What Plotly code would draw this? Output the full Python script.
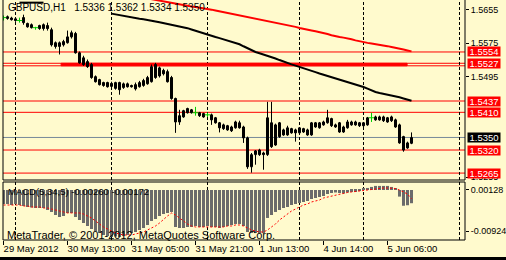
import plotly.graph_objects as go

# ---------------- data ----------------
x_labels = ['29 May 2012', '30 May 13:00', '31 May 05:00', '31 May 21:00',
            '1 Jun 13:00', '4 Jun 14:00', '5 Jun 06:00']
x_label_bars = [0, 16, 32, 48, 64, 80, 96]
separator_bars = [3, 27, 51, 74, 90, 114]

opens = [1.5636, 1.5638, 1.5635, 1.5633, 1.5629, 1.5636, 1.5622, 1.5619, 1.5612, 1.5617,
         1.5619, 1.5617, 1.5607, 1.5576, 1.5567, 1.5571, 1.5576, 1.5590, 1.5598, 1.5552,
         1.5540, 1.5531, 1.5524, 1.5495, 1.5488, 1.5481, 1.5481, 1.5479, 1.5467, 1.5481,
         1.5469, 1.5478, 1.5474, 1.5476, 1.5471, 1.5474, 1.5478, 1.5483, 1.5524, 1.5516,
         1.5510, 1.5507, 1.5493, 1.5443, 1.5387, 1.5399, 1.5419, 1.5416, 1.5409, 1.5409,
         1.5407, 1.5404, 1.5404, 1.5397, 1.5385, 1.5380, 1.5378, 1.5375, 1.5373, 1.5385,
         1.5375, 1.5349, 1.5280, 1.5309, 1.5320, 1.5313, 1.5309, 1.5385, 1.5332, 1.5385,
         1.5368, 1.5356, 1.5371, 1.5368, 1.5361, 1.5371, 1.5368, 1.5356, 1.5385, 1.5373,
         1.5380, 1.5385, 1.5395, 1.5380, 1.5385, 1.5363, 1.5373, 1.5380, 1.5387, 1.5385,
         1.5385, 1.5380, 1.5397, 1.5392, 1.5399, 1.5399, 1.5397, 1.5399, 1.5392, 1.5380,
         1.5352, 1.5325, 1.5336]
highs = [1.5641, 1.5641, 1.5638, 1.5636, 1.5636, 1.5643, 1.5624, 1.5622, 1.5614, 1.5619,
         1.5622, 1.5624, 1.5612, 1.5579, 1.5579, 1.5583, 1.5605, 1.5605, 1.5602, 1.5555,
         1.5545, 1.5536, 1.5528, 1.5498, 1.5490, 1.5483, 1.5483, 1.5483, 1.5483, 1.5483,
         1.5481, 1.5481, 1.5476, 1.5481, 1.5485, 1.5490, 1.5497, 1.5524, 1.5528, 1.5519,
         1.5514, 1.5512, 1.5497, 1.5445, 1.5416, 1.5416, 1.5421, 1.5418, 1.5423, 1.5411,
         1.5409, 1.5409, 1.5407, 1.5399, 1.5387, 1.5383, 1.5380, 1.5378, 1.5390, 1.5390,
         1.5378, 1.5352, 1.5313, 1.5320, 1.5323, 1.5316, 1.5435, 1.5435, 1.5383, 1.5387,
         1.5371, 1.5378, 1.5373, 1.5371, 1.5375, 1.5373, 1.5371, 1.5387, 1.5387, 1.5387,
         1.5390, 1.5416, 1.5397, 1.5383, 1.5387, 1.5378, 1.5392, 1.5390, 1.5390, 1.5387,
         1.5387, 1.5399, 1.5409, 1.5402, 1.5402, 1.5402, 1.5399, 1.5402, 1.5395, 1.5383,
         1.5354, 1.5340, 1.5362]
lows = [1.5629, 1.5631, 1.5629, 1.5626, 1.5624, 1.5619, 1.5612, 1.5610, 1.5607, 1.5607,
        1.5605, 1.5605, 1.5567, 1.5562, 1.5548, 1.5567, 1.5574, 1.5586, 1.5550, 1.5526,
        1.5521, 1.5516, 1.5490, 1.5481, 1.5474, 1.5471, 1.5469, 1.5469, 1.5464, 1.5452,
        1.5466, 1.5469, 1.5469, 1.5462, 1.5469, 1.5471, 1.5476, 1.5481, 1.5490, 1.5493,
        1.5498, 1.5481, 1.5440, 1.5361, 1.5380, 1.5397, 1.5407, 1.5407, 1.5402, 1.5399,
        1.5397, 1.5399, 1.5380, 1.5383, 1.5362, 1.5368, 1.5366, 1.5363, 1.5371, 1.5371,
        1.5337, 1.5275, 1.5266, 1.5285, 1.5306, 1.5273, 1.5306, 1.5325, 1.5330, 1.5349,
        1.5354, 1.5354, 1.5359, 1.5340, 1.5359, 1.5361, 1.5354, 1.5354, 1.5373, 1.5371,
        1.5378, 1.5383, 1.5375, 1.5373, 1.5361, 1.5361, 1.5371, 1.5378, 1.5378, 1.5375,
        1.5375, 1.5378, 1.5387, 1.5390, 1.5390, 1.5387, 1.5385, 1.5387, 1.5373, 1.5335,
        1.5316, 1.5323, 1.5334]
closes = [1.5636, 1.5634, 1.5631, 1.5629, 1.5629, 1.5624, 1.5614, 1.5612, 1.5612, 1.5610,
          1.5610, 1.5610, 1.5571, 1.5567, 1.5576, 1.5579, 1.5590, 1.5600, 1.5552, 1.5528,
          1.5524, 1.5519, 1.5493, 1.5483, 1.5476, 1.5474, 1.5471, 1.5472, 1.5481, 1.5464,
          1.5478, 1.5471, 1.5471, 1.5466, 1.5481, 1.5486, 1.5493, 1.5519, 1.5493, 1.5497,
          1.5502, 1.5483, 1.5443, 1.5387, 1.5402, 1.5414, 1.5409, 1.5409, 1.5409, 1.5402,
          1.5399, 1.5404, 1.5392, 1.5385, 1.5373, 1.5371, 1.5368, 1.5366, 1.5387, 1.5373,
          1.5349, 1.5280, 1.5309, 1.5318, 1.5309, 1.5309, 1.5397, 1.5328, 1.5380, 1.5352,
          1.5356, 1.5373, 1.5361, 1.5361, 1.5373, 1.5363, 1.5356, 1.5385, 1.5375, 1.5385,
          1.5387, 1.5397, 1.5378, 1.5375, 1.5363, 1.5375, 1.5387, 1.5387, 1.5380, 1.5378,
          1.5378, 1.5397, 1.5397, 1.5399, 1.5392, 1.5390, 1.5387, 1.5390, 1.5375, 1.5337,
          1.5320, 1.5337, 1.5350]

# slow moving average (red), bars 36..102
red_ma_start = 36
red_ma = [1.56818, 1.56799, 1.56779, 1.56760, 1.56741, 1.56722, 1.56705, 1.56686, 1.56670, 1.56655,
          1.56641, 1.56624, 1.56612, 1.56600, 1.56588, 1.56569, 1.56550, 1.56531, 1.56512, 1.56493,
          1.56476, 1.56457, 1.56438, 1.56419, 1.56400, 1.56378, 1.56359, 1.56340, 1.56321, 1.56302,
          1.56283, 1.56264, 1.56245, 1.56228, 1.56209, 1.56190, 1.56166, 1.56139, 1.56113, 1.56087,
          1.56070, 1.56053, 1.56034, 1.56018, 1.55994, 1.55968, 1.55941, 1.55915, 1.55896, 1.55882,
          1.55870, 1.55843, 1.55817, 1.55793, 1.55769, 1.55757, 1.55743, 1.55731, 1.55717, 1.55698,
          1.55679, 1.55659, 1.55643, 1.55621, 1.55597, 1.55576, 1.55554]

# faster moving average (black): short piece bars 4..10, then bars 27..102
black_ma_a_start = 4
black_ma_a = [1.56717, 1.56717, 1.56717, 1.56717, 1.56717, 1.56717, 1.56717]
black_ma_b_start = 27
black_ma_b = [1.56455, 1.56436, 1.56416, 1.56397, 1.56378, 1.56359, 1.56345, 1.56333, 1.56321, 1.56307,
              1.56290, 1.56268, 1.56247, 1.56228, 1.56206, 1.56187, 1.56168, 1.56149, 1.56130, 1.56108,
              1.56077, 1.56044, 1.56013, 1.55982, 1.55948, 1.55922, 1.55896, 1.55870, 1.55843, 1.55817,
              1.55791, 1.55765, 1.55724, 1.55676, 1.55628, 1.55581, 1.55540, 1.55511, 1.55483, 1.55454,
              1.55423, 1.55385, 1.55347, 1.55309, 1.55273, 1.55244, 1.55215, 1.55187, 1.55158, 1.55125,
              1.55094, 1.55060, 1.55027, 1.54998, 1.54969, 1.54941, 1.54912, 1.54883, 1.54855, 1.54831,
              1.54800, 1.54769, 1.54735, 1.54704, 1.54664, 1.54616, 1.54585, 1.54561, 1.54544, 1.54525,
              1.54506, 1.54487, 1.54458, 1.54430, 1.54401, 1.54377]

red_levels = [1.5554, 1.5527, 1.5437, 1.5410, 1.5320, 1.5265]
zone_prices = [1.5521, 1.5527]      # second line under 1.5527 and the band between them
zone_bars = [14.4, 100.9]
bid_level = 1.5350
price_ticks = [1.5655, 1.5575, 1.5495, 1.5255]

macd_hist = [-0.00275, -0.00275, -0.00295, -0.00275, -0.00295, -0.00315, -0.00334, -0.00344, -0.00354, -0.00354,
             -0.00354, -0.00393, -0.00432, -0.00492, -0.00531, -0.00511, -0.00452, -0.00452, -0.00531, -0.00590,
             -0.00649, -0.00708, -0.00767, -0.00806, -0.00845, -0.00885, -0.00904, -0.00924, -0.00914, -0.00924,
             -0.00904, -0.00885, -0.00845, -0.00826, -0.00786, -0.00747, -0.00688, -0.00609, -0.00570, -0.00511,
             -0.00472, -0.00452, -0.00432, -0.00727, -0.00747, -0.00747, -0.00727, -0.00727, -0.00708, -0.00727,
             -0.00727, -0.00708, -0.00727, -0.00727, -0.00747, -0.00727, -0.00708, -0.00688, -0.00668, -0.00668,
             -0.00708, -0.00826, -0.00845, -0.00845, -0.00845, -0.00845, -0.00550, -0.00492, -0.00432, -0.00393,
             -0.00354, -0.00334, -0.00295, -0.00275, -0.00256, -0.00236, -0.00216, -0.00177, -0.00157, -0.00138,
             -0.00118, -0.00079, -0.00059, -0.00049, -0.00059, -0.00069, -0.00049, -0.00039, -0.00039, -0.00020,
             0.00020, 0.00040, 0.00060, 0.00080, 0.00080, 0.00080, 0.00080, 0.00060, 0.00020, -0.00130,
             -0.00310, -0.00300, -0.00260]
macd_signal = [-0.00295, -0.00295, -0.00295, -0.00295, -0.00295, -0.00315, -0.00315, -0.00334, -0.00334, -0.00334,
               -0.00354, -0.00354, -0.00374, -0.00393, -0.00413, -0.00433, -0.00452, -0.00452, -0.00452, -0.00452,
               -0.00472, -0.00511, -0.00550, -0.00609, -0.00668, -0.00727, -0.00767, -0.00806, -0.00845, -0.00865,
               -0.00885, -0.00885, -0.00885, -0.00865, -0.00845, -0.00826, -0.00786, -0.00747, -0.00708, -0.00649,
               -0.00570, -0.00511, -0.00452, -0.00492, -0.00550, -0.00609, -0.00668, -0.00708, -0.00727, -0.00727,
               -0.00727, -0.00727, -0.00727, -0.00727, -0.00727, -0.00727, -0.00708, -0.00708, -0.00688, -0.00688,
               -0.00708, -0.00747, -0.00786, -0.00806, -0.00826, -0.00826, -0.00786, -0.00727, -0.00668, -0.00590,
               -0.00531, -0.00472, -0.00413, -0.00374, -0.00334, -0.00295, -0.00275, -0.00236, -0.00216, -0.00197,
               -0.00157, -0.00138, -0.00118, -0.00098, -0.00079, -0.00059, -0.00049, -0.00039, -0.00029, -0.00020,
               -0.00010, 0.00000, 0.00020, 0.00029, 0.00039, 0.00039, 0.00039, 0.00039, 0.00029, 0.00000,
               -0.00039, -0.00079, -0.00172]
macd_tick_text = ['0.00128', '-0.00924']

title_text = 'GBPUSD,H1   1.5336 1.5362 1.5334 1.5350'
macd_text = 'MACD(5,34,5) -0.00260 -0.00172'
copyright_text = 'MetaTrader, \u00a9 2001-2012, MetaQuotes Software Corp.'

# ---------------- styling ----------------
BG = '#FFFACD'
FONT = 'Liberation Sans, Arial, sans-serif'
W, H = 506, 260
ML, MR, MT, MB = 3, 41, 0, 20
plot_h = H - MT - MB            # 240
main_dom = [(plot_h - 180) / plot_h, 1.0]
macd_dom = [0.0, (plot_h - 182) / plot_h]
x_range = [-0.125, 115.375]
y_range = [1.52485, 1.56780]
macd_range = [-0.00983, 0.00157]

def py(px):
    """paper y coordinate of a pixel row measured from the top of the image"""
    return (plot_h - (px - MT)) / plot_h

n = len(opens)
idx = list(range(n))

fig = go.Figure()

# wicks
wx, wy, gx, gy = [], [], [], []
for i in idx:
    if closes[i] == opens[i]:
        gx += [i, i, None]
        gy += [lows[i], highs[i], None]
    else:
        wx += [i, i, None]
        wy += [lows[i], highs[i], None]
fig.add_trace(go.Scatter(x=wx, y=wy, mode='lines', line=dict(color='black', width=1),
                         hoverinfo='skip', xaxis='x', yaxis='y'))
fig.add_trace(go.Scatter(x=gx, y=gy, mode='lines', line=dict(color='#00D000', width=1),
                         hoverinfo='skip', xaxis='x', yaxis='y'))

# bodies
bull = [i for i in idx if closes[i] > opens[i]]
bear = [i for i in idx if closes[i] < opens[i]]
doji = [i for i in idx if closes[i] == opens[i]]
fig.add_trace(go.Bar(x=bull, y=[closes[i] - opens[i] for i in bull], base=[opens[i] for i in bull],
                     width=0.5, marker=dict(color='white', line=dict(color='black', width=1)),
                     xaxis='x', yaxis='y'))
fig.add_trace(go.Bar(x=bear, y=[opens[i] - closes[i] for i in bear], base=[closes[i] for i in bear],
                     width=0.5, marker=dict(color='black', line=dict(color='black', width=1)),
                     xaxis='x', yaxis='y'))
fig.add_trace(go.Scatter(x=doji, y=[closes[i] for i in doji], mode='markers',
                         marker=dict(symbol='line-ew', size=4, line=dict(color='#00D000', width=1)),
                         xaxis='x', yaxis='y'))

# moving averages
fig.add_trace(go.Scatter(x=list(range(red_ma_start, red_ma_start + len(red_ma))), y=red_ma,
                         mode='lines', line=dict(color='#FF0000', width=2), xaxis='x', yaxis='y'))
bx = list(range(black_ma_a_start, black_ma_a_start + len(black_ma_a))) + [None] + \
     list(range(black_ma_b_start, black_ma_b_start + len(black_ma_b)))
by = black_ma_a + [None] + black_ma_b
fig.add_trace(go.Scatter(x=bx, y=by, mode='lines', line=dict(color='black', width=2),
                         connectgaps=False, xaxis='x', yaxis='y'))

# MACD
fig.add_trace(go.Bar(x=idx, y=macd_hist, width=0.75, marker=dict(color='#6B6B6B', line=dict(width=0)),
                     xaxis='x2', yaxis='y2'))
fig.add_trace(go.Scatter(x=idx, y=macd_signal, mode='lines',
                         line=dict(color='#FF0000', width=1, dash='2px,2px'), xaxis='x2', yaxis='y2'))

shapes = []
for lv in red_levels + [zone_prices[0]]:
    shapes.append(dict(type='line', xref='x domain', x0=0, x1=1, yref='y', y0=lv, y1=lv,
                       line=dict(color='#FF0000', width=1), layer='below'))
shapes.append(dict(type='rect', xref='x', x0=zone_bars[0], x1=zone_bars[1], yref='y',
                   y0=zone_prices[0], y1=zone_prices[1], fillcolor='#FF0000',
                   line=dict(color='#FF0000', width=1), layer='below'))
shapes.append(dict(type='line', xref='x domain', x0=0, x1=1, yref='y', y0=bid_level, y1=bid_level,
                   line=dict(color='#778899', width=1), layer='below'))
for s in separator_bars:
    shapes.append(dict(type='line', xref='x', x0=s, x1=s, yref='y domain', y0=0, y1=1,
                       line=dict(color='black', width=1, dash='3px,2px'), layer='below'))
    shapes.append(dict(type='line', xref='x2', x0=s, x1=s, yref='y2 domain', y0=0, y1=1,
                       line=dict(color='black', width=1, dash='3px,2px'), layer='below'))
# panel borders
for xr, yr in (('x', 'y'), ('x2', 'y2')):
    shapes.append(dict(type='line', xref=xr + ' domain', x0=0, x1=0, yref=yr + ' domain', y0=0, y1=1,
                       line=dict(color='black', width=1)))
    shapes.append(dict(type='line', xref=xr + ' domain', x0=1, x1=1, yref=yr + ' domain', y0=0, y1=1,
                       line=dict(color='black', width=1)))
    shapes.append(dict(type='line', xref=xr + ' domain', x0=0, x1=1, yref=yr + ' domain', y0=0, y1=0,
                       line=dict(color='black', width=1)))
shapes.append(dict(type='line', xref='x2 domain', x0=0, x1=1, yref='y2 domain', y0=1, y1=1,
                   line=dict(color='black', width=1)))
# window bottom edge
shapes.append(dict(type='rect', xref='paper', x0=-0.1, x1=1.2, yref='paper',
                   y0=py(264), y1=py(257), fillcolor='black', line=dict(width=0), layer='above'))

annotations = [
    dict(text=title_text, xref='paper', yref='paper', x=0, xshift=3, y=py(8),
         xanchor='left', yanchor='middle', showarrow=False, font=dict(family=FONT, size=10, color='black')),
    dict(text=macd_text, xref='paper', yref='paper', x=0, xshift=3, y=py(191.5),
         xanchor='left', yanchor='middle', showarrow=False, font=dict(family=FONT, size=9.5, color='black')),
    dict(text=copyright_text, xref='paper', yref='paper', x=0, xshift=2, y=py(234.5),
         xanchor='left', yanchor='middle', showarrow=False, font=dict(family=FONT, size=11, color='black')),
]
for lv in red_levels + [bid_level]:
    annotations.append(dict(text=f'{lv:.4f}', xref='paper', x=1, xshift=1.5, yref='y', y=lv,
                            xanchor='left', yanchor='middle', showarrow=False,
                            bgcolor='black' if lv == bid_level else '#FF0000',
                            width=32, height=9, borderpad=0,
                            font=dict(family=FONT, size=9.5, color='white')))

fig.update_layout(
    width=W, height=H, margin=dict(l=ML, r=MR, t=MT, b=MB, pad=0, autoexpand=False),
    paper_bgcolor=BG, plot_bgcolor=BG, showlegend=False, barmode='overlay',
    shapes=shapes, annotations=annotations,
    xaxis=dict(domain=[0, 1], range=x_range, anchor='y', showticklabels=False, ticks='',
               showgrid=False, zeroline=False, showline=False, automargin=False),
    yaxis=dict(domain=main_dom, range=y_range, anchor='x', side='right', tickvals=price_ticks,
               ticktext=[f'{t:.4f}' for t in price_ticks], ticks='outside', ticklen=3, tickcolor='black',
               tickfont=dict(family=FONT, size=9, color='black'), showgrid=False, zeroline=False,
               showline=False, automargin=False),
    xaxis2=dict(domain=[0, 1], range=x_range, anchor='y2', tickvals=[b - 0.1 for b in x_label_bars],
                ticktext=x_labels, ticks='outside', ticklen=4, tickcolor='black', tickangle=0,
                ticklabelposition='outside right', automargin=False,
                tickfont=dict(family=FONT, size=9.5, color='black'), showgrid=False, zeroline=False,
                showline=False),
    yaxis2=dict(domain=macd_dom, range=macd_range, anchor='x2', side='right',
                tickvals=[0.0, -0.0081], ticktext=macd_tick_text, ticks='outside', ticklen=3,
                tickcolor='black', tickfont=dict(family=FONT, size=9, color='black'),
                showgrid=False, zeroline=False, showline=False, automargin=False),
)

fig.write_html('out.html')
